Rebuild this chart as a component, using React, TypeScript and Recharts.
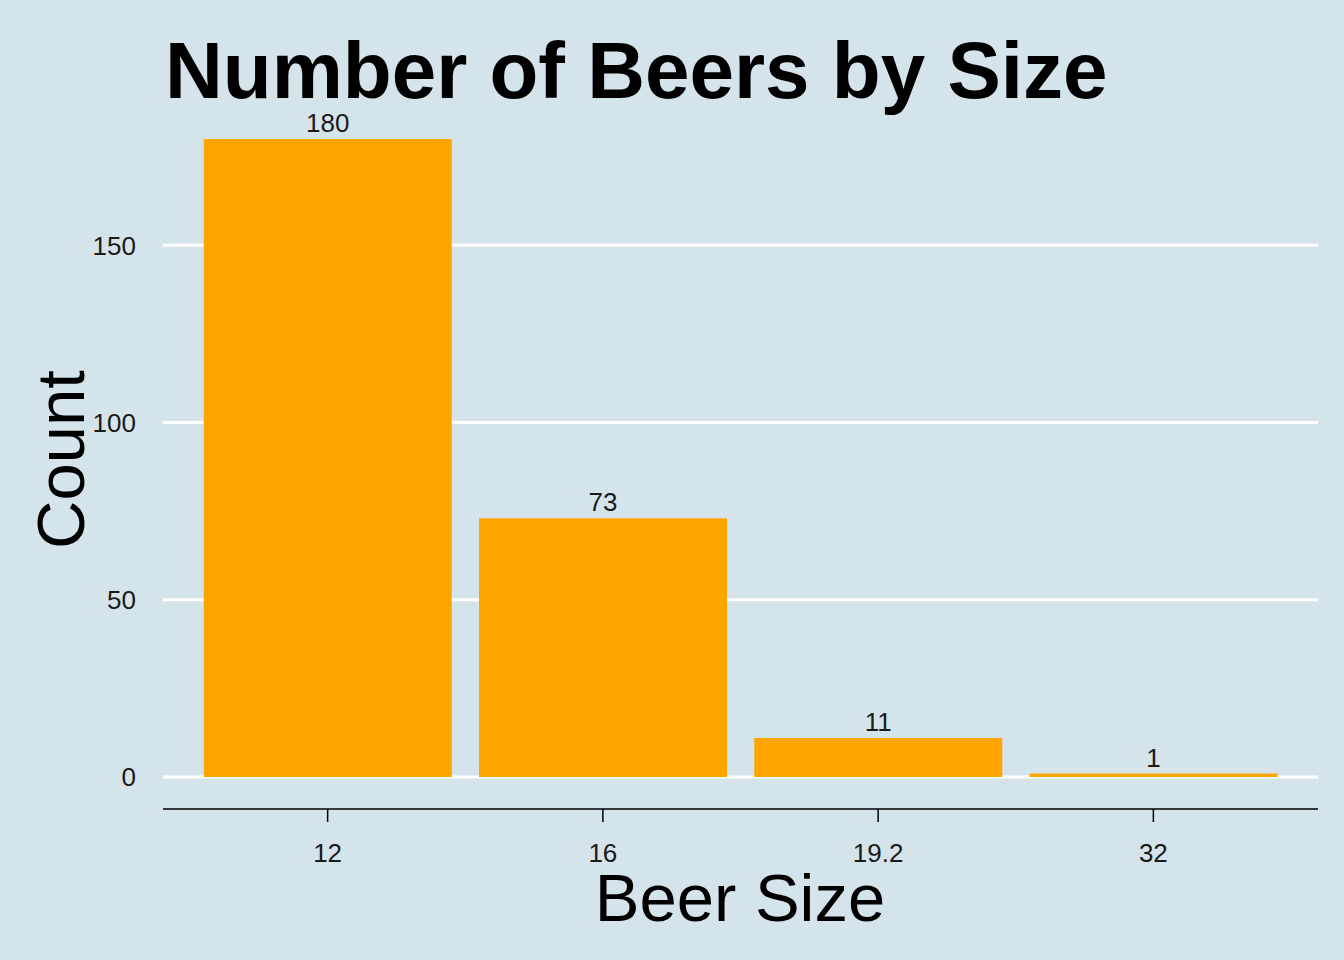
import { BarChart, Bar, XAxis, YAxis, CartesianGrid, LabelList } from 'recharts';

const sizes = ['12', '16', '19.2', '32'];
const counts = [180, 73, 11, 1];
const yTicks = [0, 50, 100, 150];

const data = sizes.map((size, i) => ({ size, count: counts[i] }));

const BG = '#d5e4eb';
const ORANGE = '#FFA500';
const FONT = '"Liberation Sans", Arial, sans-serif';

export default function App() {
  return (
    <div style={{ position: 'absolute', left: 0, top: 0, width: 1344, height: 960, background: BG, fontFamily: FONT }}>
      <BarChart
        width={1344} height={960} data={data}
        margin={{ top: 107, right: 26, bottom: 121, left: 0 }}
        barCategoryGap="5%"
      >
        <CartesianGrid horizontal vertical={false} horizontalValues={yTicks} stroke="#ffffff" strokeWidth={3} />
        <XAxis
          dataKey="size" padding={{ left: 27, right: 27 }} height={30}
          axisLine={{ stroke: '#000', strokeWidth: 1.5 }}
          tickLine={{ stroke: '#000', strokeWidth: 1.5 }}
          tickSize={13} tickMargin={22}
          tick={{ fill: '#1a1a1a', fontSize: 26, fontFamily: FONT }}
        />
        <YAxis
          type="number" domain={[-9, 189]} ticks={yTicks} width={163}
          axisLine={false} tickLine={false} tickMargin={21}
          tick={{ fill: '#1a1a1a', fontSize: 26, fontFamily: FONT }}
        />
        <Bar dataKey="count" fill={ORANGE} isAnimationActive={false}>
          <LabelList dataKey="count" position="top" offset={7} fill="#1a1a1a" fontSize={26} fontFamily={FONT} />
        </Bar>
      </BarChart>
      <div style={{ position: 'absolute', left: 165, top: 31, fontSize: 80, fontWeight: 'bold', lineHeight: 1, color: '#000' }}>
        Number of Beers by Size
      </div>
      <div style={{ position: 'absolute', left: 540, width: 400, textAlign: 'center', top: 864, fontSize: 67, lineHeight: 1, color: '#000' }}>
        Beer Size
      </div>
      <div style={{ position: 'absolute', left: 60, top: 460, width: 0, height: 0 }}>
        <div style={{ position: 'absolute', left: -200, top: -34, width: 400, textAlign: 'center', fontSize: 67, lineHeight: 1, color: '#000', transform: 'rotate(-90deg)' }}>
          Count
        </div>
      </div>
    </div>
  );
}
